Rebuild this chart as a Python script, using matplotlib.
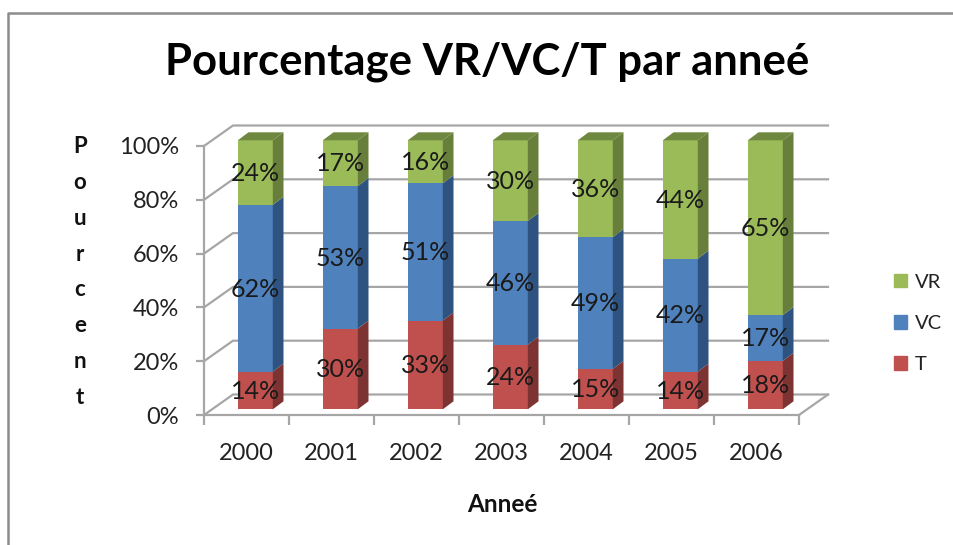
import matplotlib
matplotlib.use("Agg")
import matplotlib.pyplot as plt
from matplotlib.patches import Polygon, Patch
from matplotlib.lines import Line2D

years = ["2000", "2001", "2002", "2003", "2004", "2005", "2006"]
t_vals = [14, 30, 33, 24, 15, 14, 18]
vc_vals = [62, 53, 51, 46, 49, 42, 17]
vr_vals = [24, 17, 16, 30, 36, 44, 65]
series = [("T", t_vals, "#C0504D", "#7D3331"),
          ("VC", vc_vals, "#4F81BD", "#2F5380"),
          ("VR", vr_vals, "#9BBB59", "#687F3C")]
title_text = "Pourcentage VR/VC/T par anneé"
y_letters = "Pourcent"
x_title = "Anneé"
FONT = "Lato"
GREY = "#A6A6A6"

W, H = 954, 545
plt.rcParams["font.family"] = FONT
fig = plt.figure(figsize=(W / 100, H / 100), dpi=100, facecolor="white")

L, R, T, B = 204, 799, 146, 415
ax = fig.add_axes([L / W, 1 - B / H, (R - L) / W, (B - T) / H])
ax.set_xlim(0, 7)
ax.set_ylim(0, 100)
ax.patch.set_visible(False)
ux = (R - L) / 7
uy = (B - T) / 100

# wall / bar depth (pixels converted to data units)
wx, wy = 29 / ux, 20.5 / uy
bx, by = 10.7 / ux, 8 / uy
lift = 5.7 / uy
bar_w = 35 / ux
bar_off = 8.8 / ux

# axes
for s in ("top", "right"):
    ax.spines[s].set_visible(False)
for s in ("left", "bottom"):
    ax.spines[s].set_color(GREY)
    ax.spines[s].set_linewidth(1.6)
ax.set_xticks(range(8))
ax.set_xticklabels([])
ax.set_xticks([i + 0.5 for i in range(7)], years, minor=True)
ax.tick_params(axis="x", which="major", length=7, width=1.6, color=GREY)
ax.tick_params(axis="x", which="minor", length=0, pad=20, labelsize=17, labelcolor="#222222")
yt = [0, 20, 40, 60, 80, 100]
ax.set_yticks(yt, [f"{v}%" for v in yt])
ax.tick_params(axis="y", length=6, width=1.6, color=GREY, pad=12, labelsize=17, labelcolor="#222222")

# back wall grid, side wall, floor
for v in yt:
    ax.add_line(Line2D([0, wx, 7 + wx], [v, v + wy, v + wy], color=GREY, lw=1.6, clip_on=False, zorder=1))
ax.add_line(Line2D([7, 7 + wx], [0, wy], color=GREY, lw=1.6, clip_on=False, zorder=1))

# stacked bars
for i, year in enumerate(years):
    x0 = i + 0.5 - bar_w / 2 + bar_off
    x1 = x0 + bar_w
    base = lift
    for name, vals, col, dark in series:
        v = vals[i]
        ax.bar(x0, v, bottom=base, width=bar_w, align="edge", color=col, lw=0, clip_on=False, zorder=3)
        ax.add_patch(Polygon([(x1, base), (x1 + bx, base + by), (x1 + bx, base + v + by), (x1, base + v)],
                             closed=True, fc=dark, lw=0, clip_on=False, zorder=3))
        ax.text((x0 + x1) / 2, base + v / 2 - 0.3, f"{v}%", ha="center", va="center",
                fontsize=18, color="#1a1a1a", zorder=5, clip_on=False)
        base += v
    ax.add_patch(Polygon([(x0, base), (x0 + bx, base + by), (x1 + bx, base + by), (x1, base)],
                         closed=True, fc="#6F883F", lw=0, clip_on=False, zorder=3))

# titles
fig.text(487 / W, 1 - 62 / H, title_text, ha="center", va="center", fontsize=31.4, fontweight="bold", color="black")
fig.text(502 / W, 1 - 505 / H, x_title, ha="center", va="center", fontsize=17.5, fontweight="bold", color="#111111")
fig.text(80 / W, 1 - 272 / H, "\n".join(y_letters), ha="center", va="center", fontsize=16,
         fontweight="bold", linespacing=1.88, color="#111111")

# legend
handles = [Patch(color=s[2], label=s[0]) for s in reversed(series)]
fig.legend(handles=handles, loc="center left", bbox_to_anchor=(894 / W, 1 - 323.5 / H), frameon=False,
           fontsize=14.5, handlelength=0.64, handleheight=0.64, handletextpad=0.4, labelspacing=1.2,
           borderpad=0, borderaxespad=0, labelcolor="#222222")

# outer frame: left and top edges only, running off the right and bottom
FX0, FY0 = 8, 13
fig.add_artist(Line2D([FX0 / W, FX0 / W, 1],
                      [0, 1 - FY0 / H, 1 - FY0 / H], color="#8C8C8C", lw=1.8))

fig.savefig("out.png", dpi=100)
